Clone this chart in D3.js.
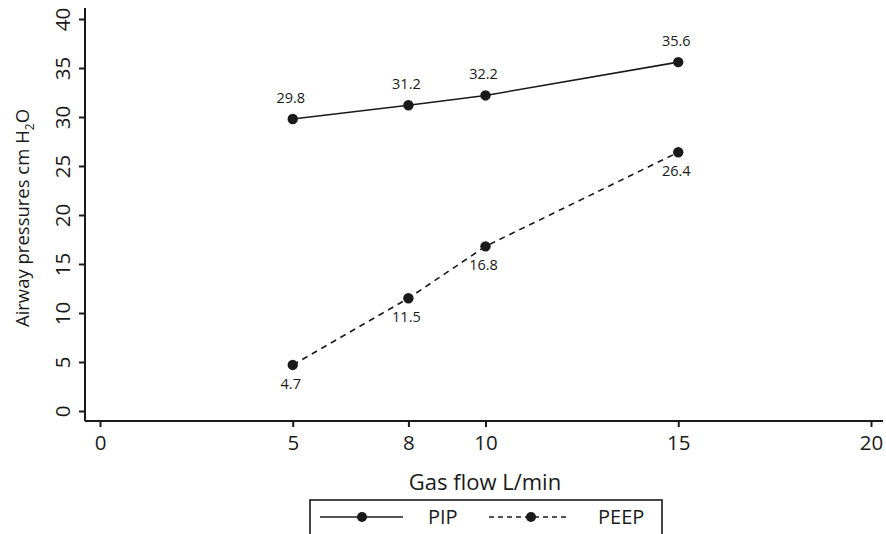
<!DOCTYPE html>
<html>
<head>
<meta charset="utf-8">
<script src="https://cdn.jsdelivr.net/npm/d3@7"></script>
<style>
  body { margin: 0; background: #fff; }
  text { font-family: "Open Sans", "Noto Sans", sans-serif; fill: #1a1a1a; }
  .axis path, .axis line { stroke: #1a1a1a; stroke-width: 2; }
</style>
</head>
<body>
<div id="svg-container"></div>
<script>
// data
const flow = [5, 8, 10, 15];
const pip = [29.8, 31.2, 32.2, 35.6];
const peep = [4.7, 11.5, 16.8, 26.4];
const xTicks = [0, 5, 8, 10, 15, 20];
const yTicks = [0, 5, 10, 15, 20, 25, 30, 35, 40];

const width = 886, height = 534;
const svg = d3.select("#svg-container").append("svg")
  .attr("width", width).attr("height", height);

// scales
const xScale = d3.scaleLinear().domain([0, 20]).range([100, 871]);
const yScale = d3.scaleLinear().domain([0, 40]).range([411, 19]);

// axes
const xAxis = d3.axisBottom(xScale).tickValues(xTicks).tickSize(6).tickPadding(4);
const yAxis = d3.axisLeft(yScale).tickValues(yTicks).tickSize(6).tickPadding(4);

const gx = svg.append("g").attr("class", "axis")
  .attr("transform", "translate(0,421)")
  .call(xAxis);
gx.select(".domain").attr("d", "M85,0H883");
gx.selectAll("text").style("font-size", "20.5px").attr("y", 29).attr("dy", 0);

const gy = svg.append("g").attr("class", "axis")
  .attr("transform", "translate(85,0)")
  .call(yAxis);
gy.select(".domain").attr("d", "M0,8V421");
gy.selectAll("text")
  .style("font-size", "20.5px")
  .attr("text-anchor", "middle")
  .attr("transform", "translate(-22,0) rotate(-90)")
  .attr("x", 0).attr("y", 0).attr("dy", "0.35em");

// labels
svg.append("text")
  .attr("x", 485).attr("y", 490)
  .attr("text-anchor", "middle")
  .style("font-size", "22px")
  .text("Gas flow L/min");

const yl = svg.append("text")
  .attr("transform", "translate(29,218) rotate(-90)")
  .attr("text-anchor", "middle")
  .style("font-size", "18.5px");
yl.append("tspan").text("Airway pressures cm H");
yl.append("tspan").attr("dy", 5).style("font-size", "12px").text("2");
yl.append("tspan").attr("dy", -5).text("O");

// lines
const line = (vals) => d3.line()
  .x((d, i) => xScale(flow[i]))
  .y(d => yScale(d))(vals);

svg.append("path").attr("d", line(pip))
  .attr("fill", "none").attr("stroke", "#1a1a1a").attr("stroke-width", 1.6);
svg.append("path").attr("d", line(peep))
  .attr("fill", "none").attr("stroke", "#1a1a1a").attr("stroke-width", 1.6)
  .attr("stroke-dasharray", "6,5");

// points + value labels
const series = [
  { vals: pip, dy: -16 },
  { vals: peep, dy: 24 }
];
series.forEach(s => {
  svg.selectAll(null).data(s.vals).enter().append("circle")
    .attr("cx", (d, i) => xScale(flow[i]))
    .attr("cy", d => yScale(d))
    .attr("r", 5.2)
    .attr("fill", "#1a1a1a");
  svg.selectAll(null).data(s.vals).enter().append("text")
    .attr("x", (d, i) => xScale(flow[i]) - 2)
    .attr("y", d => yScale(d) + s.dy)
    .attr("text-anchor", "middle")
    .style("font-size", "14.5px")
    .text(d => d.toFixed(1));
});

// legend
const lg = svg.append("g");
lg.append("rect")
  .attr("x", 310).attr("y", 500).attr("width", 352).attr("height", 40)
  .attr("fill", "none").attr("stroke", "#1a1a1a").attr("stroke-width", 1.6);
lg.append("line").attr("x1", 320).attr("x2", 403).attr("y1", 517).attr("y2", 517)
  .attr("stroke", "#1a1a1a").attr("stroke-width", 1.6);
lg.append("circle").attr("cx", 362).attr("cy", 517).attr("r", 5).attr("fill", "#1a1a1a");
lg.append("text").attr("x", 428).attr("y", 524).style("font-size", "20px").text("PIP");
lg.append("line").attr("x1", 489).attr("x2", 568).attr("y1", 517).attr("y2", 517)
  .attr("stroke", "#1a1a1a").attr("stroke-width", 1.6).attr("stroke-dasharray", "5,4");
lg.append("circle").attr("cx", 531).attr("cy", 517).attr("r", 5).attr("fill", "#1a1a1a");
lg.append("text").attr("x", 598).attr("y", 524).style("font-size", "20px").text("PEEP");
</script>
</body>
</html>
